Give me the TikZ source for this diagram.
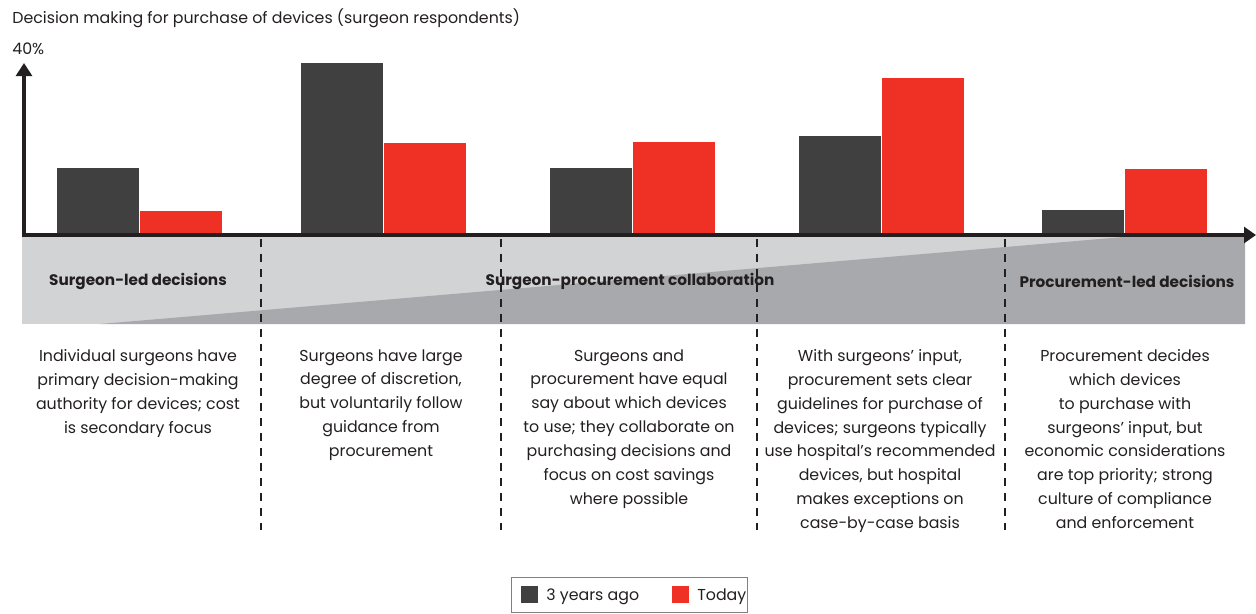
\documentclass[tikz,border=0pt]{standalone}
\usepackage{fontspec}
\setmainfont{Poppins}
\usetikzlibrary{arrows.meta}
\definecolor{barold}{HTML}{404041}
\definecolor{bartoday}{HTML}{EE3124}
\definecolor{bandlight}{HTML}{D1D3D4}
\definecolor{banddark}{HTML}{A7A9AC}
\definecolor{txt}{HTML}{231F20}

\begin{document}
\begin{tikzpicture}
	[x=0.02cm,y=-0.02cm,
	old/.style={fill=barold,draw=none},
	today/.style={fill=bartoday,draw=none},
	desc/.style={align=center,anchor=north,inner sep=0pt,text=txt,font=\fontsize{9}{13.6}\selectfont},
	phase/.style={inner sep=0pt,text=txt,font=\fontsize{8.7}{11}\selectfont\bfseries},
	divider/.style={line width=0.7pt,txt,dash pattern=on 4.5pt off 4pt}]

	\useasboundingbox (0,0) rectangle (1256,613);

	%Title
	\node[anchor=west,inner sep=0pt,text=txt,font=\fontsize{9}{11}\selectfont] (title) at (12,18) {Decision making for purchase of devices (surgeon respondents)};
	\node[anchor=west,inner sep=0pt,text=txt,font=\fontsize{9}{11}\selectfont] (max) at (12,49) {40\%};

	%Band
	\fill[bandlight] (22,237) rectangle (1245,324);
	\fill[banddark] (100,324) -- (1123,237) -- (1245,237) -- (1245,324) -- cycle;

	%Bars
	\foreach \x/\a/\b in {57/168/211, 301/63/143, 550/168/142, 799/136/78, 1042/210/169}{
		\fill[old] (\x,233) rectangle ++(82,{\a-233});
		\fill[today] ({\x+83},233) rectangle ++(82,{\b-233});
	}

	%Axis
	\coordinate (o) at (24,235);
	\coordinate (x) at (1256,235);
	\coordinate (y) at (24,63);
	\draw[-{Triangle[length=6.8pt,width=9pt]}, line width=2.27pt, txt] (22,235)--(x);
	\draw[-{Triangle[length=7.4pt,width=9pt]}, line width=2.27pt, txt] (24,237)--(y);

	%Phases
	\node[phase] (led) at (138,281) {Surgeon-led decisions};
	\node[phase] (collab) at (630,281) {Surgeon-procurement collaboration};
	\node[phase] (proc) at (1127,281) {Procurement-led decisions};

	%Dividers
	\foreach \x in {261,501,757,1005}
		\draw[divider] (\x,239) -- (\x,530);

	%Descriptions
	\node[desc] (d1) at (138,349) {Individual surgeons have\\primary decision-making\\authority for devices; cost\\is secondary focus};
	\node[desc] (d2) at (381,349) {Surgeons have large\\degree of discretion,\\but voluntarily follow\\guidance from\\procurement};
	\node[desc] (d3) at (629,349) {Surgeons and\\procurement have equal\\say about which devices\\to use; they collaborate on\\purchasing decisions and\\focus on cost savings\\where possible};
	\node[desc] (d4) at (880,349) {With surgeons’ input,\\procurement sets clear\\guidelines for purchase of\\devices; surgeons typically\\use hospital’s recommended\\devices, but hospital\\makes exceptions on\\case-by-case basis};
	\node[desc] (d5) at (1125,349) {Procurement decides\\which devices\\to purchase with\\surgeons’ input, but\\economic considerations\\are top priority; strong\\culture of compliance\\and enforcement};

	%Legend
	\draw[gray,line width=0.5pt] (511,577) rectangle (747,612);
	\fill[old] (521,586) rectangle (538,603);
	\fill[today] (672,586) rectangle (689,603);
	\node[anchor=west,inner sep=0pt,text=txt,font=\fontsize{9}{11}\selectfont] (lold) at (546,597) {3 years ago};
	\node[anchor=west,inner sep=0pt,text=txt,font=\fontsize{9}{11}\selectfont] (ltoday) at (697,597) {Today};
\end{tikzpicture}
\end{document}
